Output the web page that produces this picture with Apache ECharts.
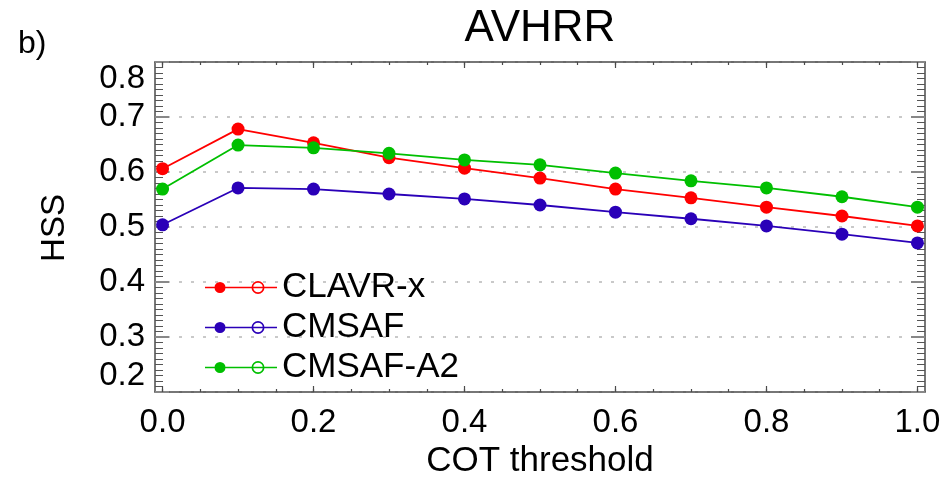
<!DOCTYPE html>
<html>
<head>
<meta charset="utf-8">
<script src="https://cdn.jsdelivr.net/npm/echarts@6/dist/echarts.min.js"></script>
<style>
html,body{margin:0;padding:0;background:#fff;}
#chart{width:947px;height:477px;}
</style>
</head>
<body>
<div id="chart"></div>
<script>
// ---- data ----
var cotThreshold = [0.0, 0.1, 0.2, 0.3, 0.4, 0.5, 0.6, 0.7, 0.8, 0.9, 1.0];
var clavrX   = [0.606, 0.678, 0.653, 0.626, 0.607, 0.589, 0.569, 0.553, 0.536, 0.520, 0.502];
var cmsaf    = [0.504, 0.571, 0.569, 0.560, 0.551, 0.540, 0.527, 0.515, 0.502, 0.487, 0.471];
var cmsafA2  = [0.569, 0.649, 0.644, 0.634, 0.622, 0.613, 0.598, 0.584, 0.571, 0.555, 0.536];
var seriesNames = ['CLAVR-x', 'CMSAF', 'CMSAF-A2'];
var xMajorTicks = [0.0, 0.2, 0.4, 0.6, 0.8, 1.0];
var xMinorTicks = [0.0, 0.05, 0.1, 0.15, 0.2, 0.25, 0.3, 0.35, 0.4, 0.45, 0.5, 0.55, 0.6, 0.65, 0.7, 0.75, 0.8, 0.85, 0.9, 0.95, 1.0];
var yTickLabels = [0.2, 0.3, 0.4, 0.5, 0.6, 0.7, 0.8];

var FONT = "'Liberation Sans', Arial, Helvetica, sans-serif";
var colors = ['#ff0000', '#2a00b8', '#00bf00'];
var axisCol = '#4a4a4a';

function pairs(ys) {
  return cotThreshold.map(function (x, i) { return [x, ys[i]]; });
}

// legend icon: line with filled dot and open ring
var legendIcon = 'path://M0 5.8H72V7.2H0Z' +
  'M9.5 6.5A5.5 5.5 0 1 1 20.5 6.5A5.5 5.5 0 1 1 9.5 6.5Z' +
  'M46.5 6.5A6.5 6.5 0 1 1 59.5 6.5A6.5 6.5 0 1 1 46.5 6.5Z' +
  'M48.2 6.5A4.8 4.8 0 1 0 57.8 6.5A4.8 4.8 0 1 0 48.2 6.5Z';

function xAxisDef(pos, major, labels) {
  return {
    type: 'value', position: pos, min: -0.01, max: 1.01,
    axisLine: { show: major, onZero: false, lineStyle: { color: axisCol, width: 1.5 } },
    axisTick: { show: true, inside: true, length: major ? 6 : 3,
      customValues: major ? xMajorTicks : xMinorTicks,
      lineStyle: { color: axisCol, width: 1.2 } },
    axisLabel: { show: labels, customValues: xMajorTicks, margin: 14,
      fontSize: 33, fontFamily: FONT, color: '#000',
      formatter: function (v) { return Number(v).toFixed(1); } },
    splitLine: { show: false }
  };
}

function yAxisDef(pos, labels) {
  return {
    type: 'value', position: pos, min: 0.2, max: 0.8, interval: 0.1,
    axisLine: { show: true, onZero: false, lineStyle: { color: axisCol, width: 1.5 } },
    axisTick: { show: true, inside: true, length: 14, lineStyle: { color: '#888', width: 2 } },
    minorTick: { show: true, splitNumber: 10, length: 8, lineStyle: { color: '#555', width: 1 } },
    axisLabel: { show: labels, margin: 10, fontSize: 33, fontFamily: FONT, color: '#000',
      verticalAlignMinLabel: 'bottom', verticalAlignMaxLabel: 'top',
      formatter: function (v) { return Number(v).toFixed(1); } },
    splitLine: { show: labels, lineStyle: { color: '#b8b8b8', width: 1.5, type: [3, 9] } },
    minorSplitLine: { show: false }
  };
}

var chart = echarts.init(document.getElementById('chart'), null, { renderer: 'canvas' });
var ysets = [clavrX, cmsaf, cmsafA2];
chart.setOption({
  animation: false,
  backgroundColor: '#fff',
  grid: { left: 155, right: 22, top: 62, bottom: 85, containLabel: false, outerBoundsMode: 'none' },
  xAxis: [xAxisDef('bottom', true, true), xAxisDef('bottom', false, false),
          xAxisDef('top', true, false), xAxisDef('top', false, false)],
  yAxis: [yAxisDef('left', true), yAxisDef('right', false)],
  legend: {
    show: true, orient: 'vertical', left: 200, top: 265,
    itemWidth: 72, itemHeight: 13, itemGap: 5,
    icon: legendIcon,
    itemStyle: { borderWidth: 0 },
    textStyle: { fontSize: 35, fontFamily: FONT, color: '#000', lineHeight: 35 },
    data: seriesNames
  },
  graphic: [
    { type: 'text', x: 540, y: 29,
      style: { text: 'AVHRR', align: 'center', verticalAlign: 'middle',
        fontSize: 44, fontFamily: FONT, fill: '#000' } },
    { type: 'text', x: 18, y: 44,
      style: { text: 'b)', align: 'left', verticalAlign: 'middle',
        fontSize: 32, fontFamily: FONT, fill: '#000' } },
    { type: 'text', x: 55, y: 228, rotation: Math.PI / 2,
      style: { text: 'HSS', align: 'center', verticalAlign: 'middle',
        fontSize: 33, fontFamily: FONT, fill: '#000' } },
    { type: 'text', x: 540, y: 461,
      style: { text: 'COT threshold', align: 'center', verticalAlign: 'middle',
        fontSize: 35, fontFamily: FONT, fill: '#000' } }
  ],
  series: seriesNames.map(function (n, i) {
    return {
      name: n, type: 'line', xAxisIndex: 0, yAxisIndex: 0,
      data: pairs(ysets[i]),
      symbol: 'circle', symbolSize: 13,
      itemStyle: { color: colors[i], borderWidth: 0 },
      lineStyle: { color: colors[i], width: 1.8 },
      z: 3 + i
    };
  })
});
</script>
</body>
</html>
